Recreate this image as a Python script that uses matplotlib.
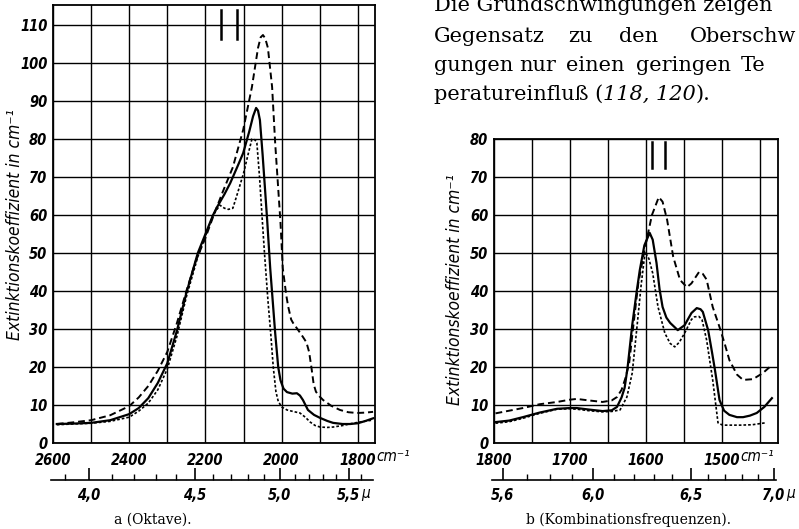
import matplotlib
matplotlib.use("Agg")
import matplotlib.pyplot as plt
from matplotlib.ticker import FixedLocator, FixedFormatter
from matplotlib.font_manager import FontProperties
import numpy as np

# ---- panel a: Oktave ----
a_solid_wn = [2590, 2550, 2500, 2450, 2400, 2375, 2350, 2325, 2300, 2275, 2250, 2220,
              2200, 2180, 2170, 2150, 2135, 2115, 2101, 2085, 2075, 2067, 2062, 2057,
              2050, 2044, 2038, 2030, 2017, 2009, 2003, 1995, 1986, 1972, 1960, 1952,
              1944, 1931, 1915, 1899, 1880, 1865, 1840, 1820, 1800, 1780, 1760]
a_solid = [5.0, 5.1, 5.3, 6.0, 7.6, 9.2, 11.8, 15.8, 21.0, 29.5, 39.5, 50,
           55, 60, 62, 65.5, 68.4, 73, 76.3, 82, 86, 88.2, 87.5, 85,
           76, 67.4, 58.7, 46, 29, 20, 16.5, 14.3, 13.4, 13.0, 13.1, 12.5,
           11.3, 8.7, 7.4, 6.6, 5.8, 5.3, 5.0, 5.0, 5.2, 5.8, 6.5]

a_dashed_wn = [2590, 2550, 2500, 2450, 2400, 2375, 2350, 2325, 2300, 2275, 2250, 2225,
               2200, 2180, 2155, 2128, 2101, 2078, 2062, 2055, 2049, 2043, 2036, 2025,
               2017, 2009, 2003, 1997, 1988, 1983, 1975, 1970, 1955, 1944, 1935, 1928,
               1922, 1916, 1910, 1900, 1891, 1870, 1847, 1825, 1802, 1780, 1760]
a_dashed = [5.0, 5.4, 6.0, 7.3, 9.7, 12.0, 15.0, 19.0, 24.0, 31.5, 40, 48,
            54, 59.5, 66, 72.6, 82.4, 93.7, 104, 106.8, 107.4, 106.5, 104, 93.7,
            79, 67, 58, 46, 39, 36, 32.5, 31.6, 29.5, 27.9, 26.5, 24,
            20, 15.5, 13.5, 12.2, 11.3, 9.8, 8.7, 8.1, 7.9, 8.0, 8.2]

a_dotted_wn = [2590, 2550, 2500, 2450, 2400, 2375, 2350, 2325, 2300, 2275, 2250, 2220,
               2200, 2180, 2162, 2150, 2140, 2128, 2115, 2100, 2088, 2078, 2070, 2065,
               2058, 2051, 2045, 2036, 2028, 2022, 2015, 2009, 2000, 1986, 1970, 1952,
               1938, 1925, 1912, 1899, 1880, 1865, 1840, 1813, 1790, 1763]
a_dotted = [4.8, 5.0, 5.2, 5.7, 6.8, 8.4, 10.5, 14.0, 19.5, 28.0, 38.5, 49,
            54.5, 60, 62.6, 61.8, 61.5, 61.8, 66, 71, 76, 80, 79.8, 79,
            70, 59, 50, 37.6, 28, 20, 13.5, 11, 9.5, 8.7, 8.3, 7.9,
            6.8, 5.5, 4.6, 4.2, 4.1, 4.2, 4.6, 5.2, 5.6, 6.0]

a_marks_wn = [2159, 2117]
a_marks_range = (106.3, 114.0)

a_xticks = [2600, 2400, 2200, 2000, 1800]
a_xtick_labels = ["2600", "2400", "2200", "2000", "1800"]
a_yticks = [0, 10, 20, 30, 40, 50, 60, 70, 80, 90, 100, 110]
a_mu_major = [4.0, 4.5, 5.0, 5.5]
a_mu_labels = ["4,0", "4,5", "5,0", "5,5"]
a_mu_minor = [3.9, 4.1, 4.2, 4.3, 4.4, 4.6, 4.7, 4.8, 4.9, 5.1, 5.2, 5.3, 5.4, 5.6, 5.7]

# ---- panel b: Kombinationsfrequenzen ----
b_solid_wn = [1798, 1780, 1762, 1740, 1717, 1700, 1691, 1675, 1657, 1645, 1638, 1632,
              1628, 1624, 1618, 1612, 1608, 1602, 1595, 1591, 1586, 1582, 1578, 1573,
              1568, 1558, 1549, 1540, 1533, 1528, 1525, 1518, 1513, 1509, 1503, 1497,
              1490, 1480, 1472, 1463, 1454, 1444, 1434]
b_solid = [5.5, 5.9, 6.8, 8.0, 9.0, 9.2, 9.2, 8.8, 8.4, 8.6, 9.5, 12,
           14.5, 20, 31, 40, 45.5, 52, 55.3, 53.5, 47.4, 40.5, 35.8, 33,
           31.6, 29.7, 31, 34.2, 35.5, 35.2, 34.5, 29.7, 24, 19.2, 11.3, 8.5,
           7.4, 6.8, 6.8, 7.2, 7.9, 9.5, 11.8]

b_dashed_wn = [1798, 1780, 1762, 1740, 1717, 1700, 1691, 1675, 1657, 1645, 1638, 1632,
               1627, 1622, 1617, 1610, 1601, 1592, 1583, 1578, 1572, 1564, 1555, 1546,
               1540, 1530, 1525, 1520, 1512, 1503, 1496, 1490, 1480, 1472, 1459, 1446, 1434]
b_dashed = [7.8, 8.5, 9.2, 10.2, 10.8, 11.4, 11.6, 11.2, 10.8, 11.2, 12.1, 14,
            17, 21, 30, 42, 51.6, 60, 64.7, 63.5, 58.7, 49, 42.9, 41,
            42, 45, 44.5, 43, 35.8, 30.5, 26, 21.8, 18, 16.6, 16.8, 18.4, 20.5]

b_dotted_wn = [1798, 1780, 1762, 1740, 1717, 1700, 1691, 1675, 1657, 1645, 1634, 1625,
               1618, 1612, 1606, 1601, 1596, 1591, 1584, 1575, 1568, 1562, 1556, 1549,
               1540, 1536, 1530, 1526, 1520, 1512, 1505, 1499, 1476, 1460, 1443]
b_dotted = [5.2, 5.6, 6.5, 7.8, 8.9, 9.0, 8.9, 8.5, 8.2, 8.3, 8.7, 12.1,
            18.4, 30, 42, 50.3, 48.5, 44.7, 35.8, 28.9, 26.2, 25.3, 26.5, 28.9,
            32.5, 33.2, 33.3, 32.4, 27.1, 16.6, 5.3, 4.7, 4.7, 4.8, 5.3]

b_marks_wn = [1592, 1575]
b_marks_range = (72.4, 79.2)

b_xticks = [1800, 1700, 1600, 1500]
b_xtick_labels = ["1800", "1700", "1600", "1500"]
b_yticks = [0, 10, 20, 30, 40, 50, 60, 70, 80]
b_mu_major = [5.6, 6.0, 6.5, 7.0]
b_mu_labels = ["5,6", "6,0", "6,5", "7,0"]
b_mu_minor = [5.7, 5.8, 5.9, 6.1, 6.2, 6.3, 6.4, 6.6, 6.7, 6.8, 6.9]

ylabel_text = "Extinktionskoeffizient in cm⁻¹"

# ---- figure ----
W, H = 799, 529
fig = plt.figure(figsize=(W / 100, H / 100), dpi=100)
fig.patch.set_facecolor("white")

# narrow oblique face for the axis lettering
SANS = ["DejaVu Sans"]
tick_font = dict(family=SANS, style="italic", weight="bold", stretch="condensed", size=10.5)
unit_font = dict(family=SANS, style="italic", weight="normal", stretch="condensed", size=11)
SERIF = ["DejaVu Serif"]


def px_rect(x0, y0, x1, y1):
    return [x0 / W, 1 - y1 / H, (x1 - x0) / W, (y1 - y0) / H]


solid_style = dict(color="k", lw=1.6, ls="-")
dashed_style = dict(color="k", lw=1.4, ls=(0, (3.5, 2.0)))
dotted_style = dict(color="k", lw=1.2, ls=(0, (1.6, 1.2)))


def panel(box, xlim, ylim, xgrid_step, xticks, xlabels, yticks, curves, marks, marks_range,
          mu_major, mu_labels, mu_minor):
    x0, y0, x1, y1 = box
    ax = fig.add_axes(px_rect(x0, y0, x1, y1))
    ax.set_xlim(*xlim)
    ax.set_ylim(*ylim)
    grid_x = np.arange(xlim[0], xlim[1], -xgrid_step)
    ax.xaxis.set_major_locator(FixedLocator(xticks))
    ax.xaxis.set_major_formatter(FixedFormatter(xlabels))
    ax.xaxis.set_minor_locator(FixedLocator(grid_x))
    ax.set_yticks(yticks)
    ax.set_yticklabels([str(v) for v in yticks])
    ax.grid(True, which="both", color="k", lw=1.0)
    ax.tick_params(which="both", length=0)
    ax.tick_params(axis="x", pad=7)
    ax.tick_params(axis="y", pad=4)
    for lab in ax.get_xticklabels() + ax.get_yticklabels():
        lab.set_fontproperties(FontProperties(**tick_font))
    for sp in ax.spines.values():
        sp.set_linewidth(1.3)
    for (wn, val), st in curves:
        ax.plot(wn, val, **st, zorder=3)
    for m in marks:
        ax.plot([m, m], marks_range, color="k", lw=1.8, zorder=3)
    ax.annotate("cm⁻¹", xy=(xticks[-1], 0), xycoords=("data", "axes fraction"),
                xytext=(13, -4.5), textcoords="offset points", ha="left", va="top",
                **unit_font)

    # wavelength scale in micron below the wavenumber axis
    mu = fig.add_axes(px_rect(x0 - 2, 479, x1 - 2, 480))
    mu.set_xlim(*xlim)
    mu.set_yticks([])
    for side in ("left", "right", "top"):
        mu.spines[side].set_visible(False)
    mu.spines["bottom"].set_linewidth(1.2)
    mu.patch.set_visible(False)
    mu.xaxis.set_major_locator(FixedLocator([1e4 / v for v in mu_major]))
    mu.xaxis.set_major_formatter(FixedFormatter(mu_labels))
    mu.xaxis.set_minor_locator(FixedLocator([1e4 / v for v in mu_minor]))
    mu.tick_params(which="major", direction="in", length=9, width=1.2, pad=6)
    mu.tick_params(which="minor", direction="in", length=4.5, width=1.0)
    for lab in mu.get_xticklabels():
        lab.set_fontproperties(FontProperties(**tick_font))
    mu.annotate("μ", xy=(1e4 / mu_major[-1], 0), xycoords=("data", "axes fraction"),
                xytext=(9, -4.5), textcoords="offset points", ha="left", va="top",
                **unit_font)
    return ax


panel((53, 5, 375, 443), (2600, 1755), (0, 115.3), 100, a_xticks, a_xtick_labels, a_yticks,
      [((a_solid_wn, a_solid), solid_style), ((a_dashed_wn, a_dashed), dashed_style),
       ((a_dotted_wn, a_dotted), dotted_style)],
      a_marks_wn, a_marks_range, a_mu_major, a_mu_labels, a_mu_minor)

panel((494, 139, 778, 443), (1800, 1426), (0, 80), 50, b_xticks, b_xtick_labels, b_yticks,
      [((b_solid_wn, b_solid), solid_style), ((b_dashed_wn, b_dashed), dashed_style),
       ((b_dotted_wn, b_dotted), dotted_style)],
      b_marks_wn, b_marks_range, b_mu_major, b_mu_labels, b_mu_minor)

ylab_font = dict(family=SANS, style="italic", weight="medium", stretch="condensed", size=12.5)
fig.text(15 / W, 1 - 225 / H, ylabel_text, rotation=90, ha="center", va="center", **ylab_font)
fig.text(455 / W, 1 - 290 / H, ylabel_text, rotation=90, ha="center", va="center", **ylab_font)

cap_font = dict(family=SERIF, size=10)
fig.text(153 / W, 1 - 520 / H, "a (Oktave).", ha="center", va="center", **cap_font)
fig.text(629 / W, 1 - 520 / H, "b (Kombinationsfrequenzen).", ha="center", va="center", **cap_font)

# running text beside panel b
body_font = dict(family=SERIF, size=15)
body_lines = [
    (11, [(434, "Die Grundschwingungen zeigen")]),
    (42, [(434, "Gegensatz"), (568, "zu"), (619, "den"), (690, "Oberschw")]),
    (71, [(434, "gungen"), (519, "nur"), (566, "einen"), (636, "geringen"), (741, "Te")]),
]
for base, words in body_lines:
    for x, w in words:
        fig.text(x / W, 1 - base / H, w, ha="left", va="baseline", **body_font)

renderer = fig.canvas.get_renderer()
x = 434
for part, style in [("peratureinfluß (", "normal"), ("118, 120", "italic"), (").", "normal")]:
    t = fig.text(x / W, 1 - 100 / H, part, ha="left", va="baseline", style=style, **body_font)
    x = t.get_window_extent(renderer).x1

fig.savefig("out.png", dpi=100)
